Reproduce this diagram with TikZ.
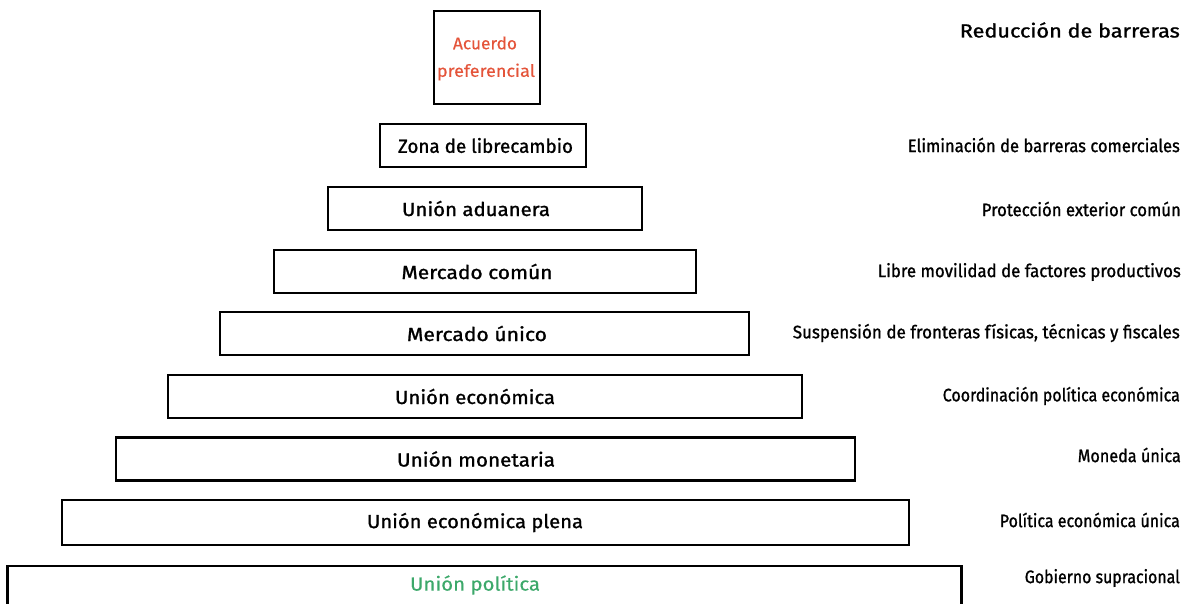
\documentclass[tikz,border=0pt]{standalone}
\usepackage{graphicx}
\usepackage{fontspec}
\setmainfont{Fira Sans}[FakeBold=1.2]
\newfontfamily\lightfont{Fira Sans}[FakeBold=0.4]
\definecolor{redtxt}{HTML}{E4543A}
\definecolor{greentxt}{HTML}{3CA86A}
\newcommand{\fitw}[2]{\resizebox{#1pt}{\height}{#2}}
\begin{document}
\begin{tikzpicture}[x=1pt,y=-1pt,
  lvl/.style={draw=black,line width=2.3pt,inner sep=0pt,minimum height=43pt},
  lbl/.style={inner sep=0pt,font=\fontsize{19}{22}\selectfont,text=black},
  goal/.style={anchor=east,inner sep=0pt,font=\fontsize{18}{21}\selectfont,text=black}]
\useasboundingbox (0,0) rectangle (1194,603);
\clip (0,0) rectangle (1194,603);
\node[lvl,minimum width=106pt,minimum height=93pt] (n1) at (487,57.5) {};
\node[lvl,minimum width=206pt] (n2) at (483,145.5) {};
\node[lvl,minimum width=314pt] (n3) at (485,208.5) {};
\node[lvl,minimum width=422pt] (n4) at (485,271.5) {};
\node[lvl,minimum width=529pt] (n5) at (484.5,333.5) {};
\node[lvl,minimum width=634pt] (n6) at (485,396.5) {};
\node[lvl,minimum width=739pt] (n7) at (485.5,459) {};
\node[lvl,minimum width=847pt,minimum height=45pt] (n8) at (485.5,522.5) {};
\node[lvl,minimum width=954pt,minimum height=70pt,anchor=north] (n9) at (484.5,565) {};
\node[lbl,text=redtxt,font=\lightfont\fontsize{17}{20}\selectfont] (t1a) at (485,43) {\fitw{64}{Acuerdo}};
\node[lbl,text=redtxt,font=\lightfont\fontsize{17}{20}\selectfont] (t1b) at (486,72) {\fitw{98}{preferencial}};
\node[lbl] (t2) at (485.5,145.5) {\fitw{175}{Zona de librecambio}};
\node[lbl] (t3) at (476,208.5) {\fitw{148}{Unión aduanera}};
\node[lbl] (t4) at (477,271.5) {\fitw{151}{Mercado común}};
\node[lbl] (t5) at (477,333.5) {\fitw{140}{Mercado único}};
\node[lbl] (t6) at (475,396.5) {\fitw{160}{Unión económica}};
\node[lbl] (t7) at (476,459) {\fitw{158}{Unión monetaria}};
\node[lbl] (t8) at (475,522.5) {\fitw{216}{Unión económica plena}};
\node[lbl,text=greentxt,font=\lightfont\fontsize{19}{22}\selectfont] (t9) at (475,585) {\fitw{130}{Unión política}};
\node[goal,font=\fontsize{19}{22}\selectfont] (g1) at (1180,30) {\fitw{220}{Reducción de barreras}};
\node[goal] (g2) at (1180,145) {\fitw{272}{Eliminación de barreras comerciales}};
\node[goal] (g3) at (1181,209) {\fitw{199}{Protección exterior común}};
\node[goal] (g4) at (1181,272) {\fitw{303}{Libre movilidad de factores productivos}};
\node[goal] (g5) at (1180,333) {\fitw{387}{Suspensión de fronteras físicas, técnicas y fiscales}};
\node[goal] (g6) at (1180,396) {\fitw{237}{Coordinación política económica}};
\node[goal] (g7) at (1181,455) {\fitw{103}{Moneda única}};
\node[goal] (g8) at (1180,520) {\fitw{180}{Política económica única}};
\node[goal] (g9) at (1180,578) {\fitw{155}{Gobierno supracional}};
\end{tikzpicture}
\end{document}
